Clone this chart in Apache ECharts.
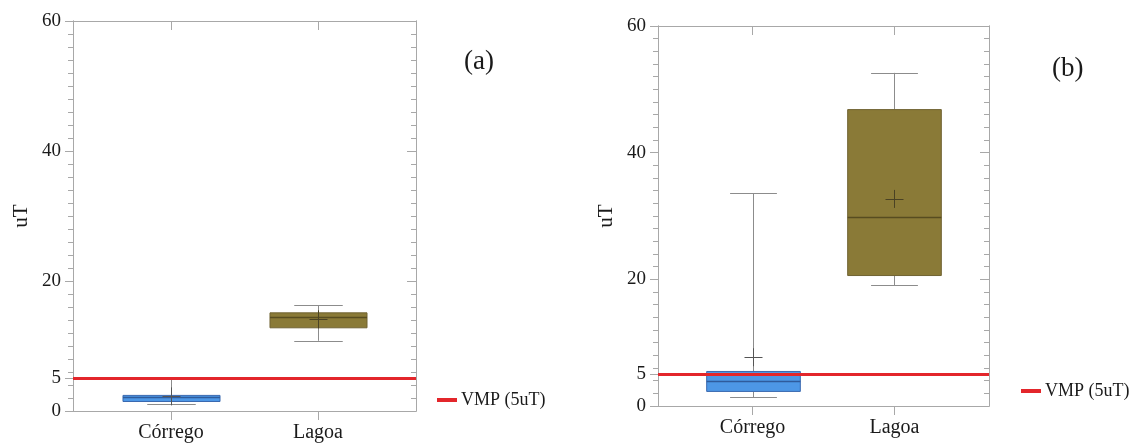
<!DOCTYPE html>
<html>
<head>
<meta charset="utf-8">
<title>uT - Córrego x Lagoa</title>
<script src="https://cdn.jsdelivr.net/npm/echarts@6/dist/echarts.min.js"></script>
<style>
  html, body { margin: 0; padding: 0; background: #fff; }
  #chart { width: 1135px; height: 443px; }
</style>
</head>
<body>
<div id="chart"></div>
<script>
// categorias e estatísticas (uT)
const categories = ["Córrego", "Lagoa"];

// painel (a)
const minA = [1.06, 10.8];
const q1A = [1.46, 12.8];
const medianA = [2.2, 14.5];
const q3A = [2.4, 15.1];
const maxA = [5.0, 16.3];
const meanA = [2.25, 14.1];

// painel (b)
const minB = [1.36, 19.1];
const q1B = [2.3, 20.6];
const medianB = [3.95, 29.8];
const q3B = [5.45, 46.8];
const maxB = [33.6, 52.6];
const meanB = [7.7, 32.7];

const vmpLimit = 5;
const vmpName = "VMP (5uT)";

const yLabelTicks = [0, 5, 20, 40, 60];
const yRightTicks = [0, 20, 40, 60];
const yMinorTicks = [0, 2, 4, 6, 8, 10, 12, 14, 16, 18, 20, 22, 24, 26, 28, 30,
  32, 34, 36, 38, 40, 42, 44, 46, 48, 50, 52, 54, 56, 58, 60];
const xPositions = [1, 2];

const FONT = "'Liberation Serif', 'Times New Roman', serif";
const FRAME = "#a8a8a8";
const TEXT = "#1a1a1a";

const boxFill = ["#4d97e6", "#8a7a37"];
const boxBorder = ["#3a69b0", "#706332"];
const medianColor = ["#2f5b9c", "#574c20"];
const plusColor = ["#555555", "#4a4224"];
const whiskerColor = "#8c8c8c";

function buildBoxData(mins, q1s, meds, q3s, maxs, means) {
  return categories.map((name, i) => ({
    name,
    value: [xPositions[i], mins[i], q1s[i], meds[i], q3s[i], maxs[i], means[i]],
  }));
}

function crisp(v) {
  return Math.round(v) + 0.5;
}

function renderBox(params, api) {
  const i = params.dataIndex;
  const x = api.value(0);
  const lo = api.coord([x, api.value(1)]);
  const q1 = api.coord([x, api.value(2)]);
  const med = api.coord([x, api.value(3)]);
  const q3 = api.coord([x, api.value(4)]);
  const hi = api.coord([x, api.value(5)]);
  const mean = api.coord([x, api.value(6)]);
  const boxW = api.size([0.66, 0])[0];
  const capHalf = boxW / 4;
  const cx = crisp(lo[0]);
  const thin = { stroke: whiskerColor, lineWidth: 1 };

  return {
    type: "group",
    children: [
      { type: "line", shape: { x1: cx, y1: q3[1], x2: cx, y2: hi[1] }, style: thin },
      { type: "line", shape: { x1: cx, y1: q1[1], x2: cx, y2: lo[1] }, style: thin },
      { type: "line", shape: { x1: cx - capHalf, y1: crisp(hi[1]), x2: cx + capHalf, y2: crisp(hi[1]) }, style: thin },
      { type: "line", shape: { x1: cx - capHalf, y1: crisp(lo[1]), x2: cx + capHalf, y2: crisp(lo[1]) }, style: thin },
      {
        type: "rect",
        shape: { x: cx - boxW / 2, y: q3[1], width: boxW, height: q1[1] - q3[1] },
        style: { fill: boxFill[i], stroke: boxBorder[i], lineWidth: 1 },
      },
      {
        type: "line",
        shape: { x1: cx - boxW / 2, y1: crisp(med[1]), x2: cx + boxW / 2, y2: crisp(med[1]) },
        style: { stroke: medianColor[i], lineWidth: 1.5 },
      },
      { type: "line", shape: { x1: cx - 9, y1: crisp(mean[1]), x2: cx + 9, y2: crisp(mean[1]) }, style: { stroke: plusColor[i], lineWidth: 1 } },
      { type: "line", shape: { x1: cx, y1: mean[1] - 9, x2: cx, y2: mean[1] + 9 }, style: { stroke: plusColor[i], lineWidth: 1 } },
    ],
  };
}

const panels = [
  { tag: "(a)", grid: { left: 73, top: 21, width: 343, height: 390 }, tagPos: { left: 459, top: 43 },
    legendPos: { left: 432, top: 386 }, data: buildBoxData(minA, q1A, medianA, q3A, maxA, meanA) },
  { tag: "(b)", grid: { left: 658, top: 26, width: 331, height: 380 }, tagPos: { left: 1047, top: 50 },
    legendPos: { left: 1016, top: 377 }, data: buildBoxData(minB, q1B, medianB, q3B, maxB, meanB) },
];

function makeXAxis(gridIndex, position) {
  const bottom = position === "bottom";
  return {
    type: "value",
    gridIndex,
    position,
    min: 1 / 3,
    max: 8 / 3,
    splitLine: { show: false },
    axisLine: { show: true, onZero: false, lineStyle: { color: FRAME, width: 1 } },
    axisTick: { show: true, inside: !bottom, length: 9, customValues: xPositions, lineStyle: { color: FRAME } },
    axisLabel: {
      show: bottom,
      customValues: xPositions,
      margin: 12,
      fontFamily: FONT,
      fontSize: 20,
      color: TEXT,
      formatter: (v) => categories[Math.round(v) - 1] || "",
    },
  };
}

function makeYAxis(gridIndex, position, ticks, length, inside, withLabels) {
  return {
    type: "value",
    gridIndex,
    position,
    min: 0,
    max: 60,
    name: withLabels ? "uT" : "",
    nameLocation: "middle",
    nameGap: 41,
    nameTextStyle: { fontFamily: FONT, fontSize: 21, color: TEXT },
    splitLine: { show: false },
    axisLine: { show: true, lineStyle: { color: FRAME, width: 1 } },
    axisTick: { show: true, inside, length, customValues: ticks, lineStyle: { color: FRAME } },
    axisLabel: {
      show: withLabels,
      customValues: yLabelTicks,
      margin: 12,
      fontFamily: FONT,
      fontSize: 19,
      color: TEXT,
    },
  };
}

const grids = [];
const xAxes = [];
const yAxes = [];
const titles = [];
const legends = [];
const series = [];

panels.forEach((p, g) => {
  grids.push({ ...p.grid, containLabel: false });
  xAxes.push(makeXAxis(g, "bottom"), makeXAxis(g, "top"));
  yAxes.push(
    makeYAxis(g, "left", yLabelTicks, 8, false, true),
    makeYAxis(g, "left", yMinorTicks, 5, false, false),
    makeYAxis(g, "right", yRightTicks, 9, true, false),
    makeYAxis(g, "right", yMinorTicks, 5, true, false)
  );
  titles.push({
    text: p.tag,
    ...p.tagPos,
    textStyle: { fontFamily: FONT, fontSize: 27, fontWeight: "normal", color: TEXT },
  });
  legends.push({
    ...p.legendPos,
    data: [vmpName],
    icon: "rect",
    itemWidth: 20,
    itemHeight: 4,
    itemGap: 6,
    selectedMode: false,
    textStyle: { fontFamily: FONT, fontSize: 18, color: TEXT, padding: [0, 0, 0, -1] },
  });
  series.push({
    type: "custom",
    name: "box" + g,
    xAxisIndex: g * 2,
    yAxisIndex: g * 4,
    renderItem: renderBox,
    encode: { x: 0, y: [1, 2, 3, 4, 5, 6] },
    data: p.data,
    z: 2,
    silent: true,
  });
  series.push({
    type: "line",
    name: vmpName,
    xAxisIndex: g * 2,
    yAxisIndex: g * 4,
    data: [],
    color: "#e3262b",
    z: 5,
    markLine: {
      silent: true,
      symbol: ["none", "none"],
      label: { show: false },
      lineStyle: { color: "#e3262b", width: 3, type: "solid" },
      data: [{ yAxis: vmpLimit }],
    },
  });
});

const chart = echarts.init(document.getElementById("chart"));
chart.setOption({
  backgroundColor: "#fff",
  animation: false,
  title: titles,
  legend: legends,
  grid: grids,
  xAxis: xAxes,
  yAxis: yAxes,
  series,
});
</script>
</body>
</html>
